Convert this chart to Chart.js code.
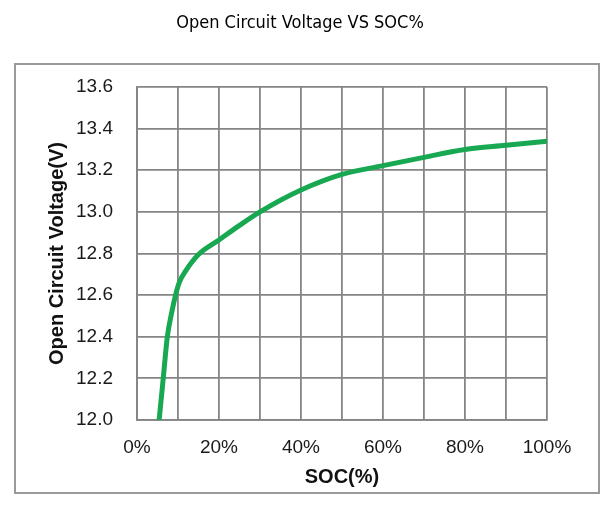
<!DOCTYPE html>
<html>
<head>
<meta charset="utf-8">
<script src="https://cdn.jsdelivr.net/npm/chart.js@4/dist/chart.umd.min.js"></script>
<style>
  html, body { margin: 0; padding: 0; background: #ffffff; }
  #wrap { width: 616px; height: 506px; position: relative; }
</style>
</head>
<body>
<div id="wrap"><canvas id="c" width="616" height="506"></canvas></div>
<script>
// ---- data ----
const chartTitle = 'Open Circuit Voltage VS SOC%';
const xAxisTitle = 'SOC(%)';
const yAxisTitle = 'Open Circuit Voltage(V)';
const socPercent = [5.4, 6.4, 7.4, 8.5, 9.4, 10.3, 12, 15, 20, 25, 30, 40, 50, 60, 70, 80, 90, 100];
const voltage    = [12.0, 12.2, 12.4, 12.52, 12.6, 12.66, 12.72, 12.795, 12.865, 12.935, 13.0, 13.105, 13.18, 13.222, 13.262, 13.30, 13.32, 13.34];
const xTickValues = [0, 20, 40, 60, 80, 100];
const xTickLabels = ['0%', '20%', '40%', '60%', '80%', '100%'];
const yTickValues = [12.0, 12.2, 12.4, 12.6, 12.8, 13.0, 13.2, 13.4, 13.6];
const yTickLabels = ['12.0', '12.2', '12.4', '12.6', '12.8', '13.0', '13.2', '13.4', '13.6'];

const points = socPercent.map((s, i) => ({ x: s, y: voltage[i] }));

const frameAndTitle = {
  id: 'frameAndTitle',
  beforeDraw(chart) {
    const ctx = chart.ctx;
    ctx.save();
    ctx.fillStyle = '#ffffff';
    ctx.fillRect(0, 0, chart.width, chart.height);
    ctx.strokeStyle = '#9a9a9a';
    ctx.lineWidth = 2;
    ctx.strokeRect(15, 64, 584, 429);
    ctx.fillStyle = '#000000';
    ctx.font = '18px "Liberation Sans Narrow", "DejaVu Sans Condensed", "Roboto Condensed", sans-serif';
    ctx.textAlign = 'center';
    ctx.textBaseline = 'middle';
    ctx.fillText(chartTitle, 300, 23);
    ctx.restore();
  }
};

const tickFont = { family: '"Liberation Sans", Arial, sans-serif', size: 19 };
const titleFont = { family: '"Liberation Sans", Arial, sans-serif', size: 20, weight: 'bold' };

new Chart(document.getElementById('c'), {
  type: 'line',
  data: {
    datasets: [{
      data: points,
      borderColor: '#17a851',
      borderWidth: 5,
      pointRadius: 0,
      fill: false,
      cubicInterpolationMode: 'monotone',
      borderCapStyle: 'butt'
    }]
  },
  options: {
    responsive: false,
    animation: false,
    events: [],
    layout: { padding: { left: 45, right: 69, top: 87, bottom: 17 } },
    plugins: { legend: { display: false }, title: { display: false }, tooltip: { enabled: false } },
    scales: {
      x: {
        type: 'linear', min: 0, max: 100,
        afterFit(scale) { scale.height = 69; },
        ticks: {
          stepSize: 10, padding: 16, color: '#1a1a1a', font: tickFont, maxRotation: 0, autoSkip: false,
          callback(v) { const i = xTickValues.indexOf(v); return i >= 0 ? xTickLabels[i] : ''; }
        },
        grid: { color: '#858585', lineWidth: 1.8, drawTicks: false },
        border: { color: '#858585', width: 1.8 },
        title: { display: true, text: xAxisTitle, color: '#111111', font: titleFont, padding: 0 }
      },
      y: {
        type: 'linear', min: 12.0, max: 13.6,
        afterFit(scale) { scale.width = 92; },
        ticks: {
          stepSize: 0.2, padding: 24, color: '#1a1a1a', font: tickFont,
          callback(v) {
            const i = yTickValues.findIndex(t => Math.abs(t - v) < 1e-6);
            return i >= 0 ? yTickLabels[i] : '';
          }
        },
        grid: { color: '#858585', lineWidth: 1.8, drawTicks: false },
        border: { color: '#858585', width: 1.8 },
        title: { display: true, text: yAxisTitle, color: '#111111', font: titleFont, padding: 0 }
      }
    }
  },
  plugins: [frameAndTitle]
});
</script>
</body>
</html>
